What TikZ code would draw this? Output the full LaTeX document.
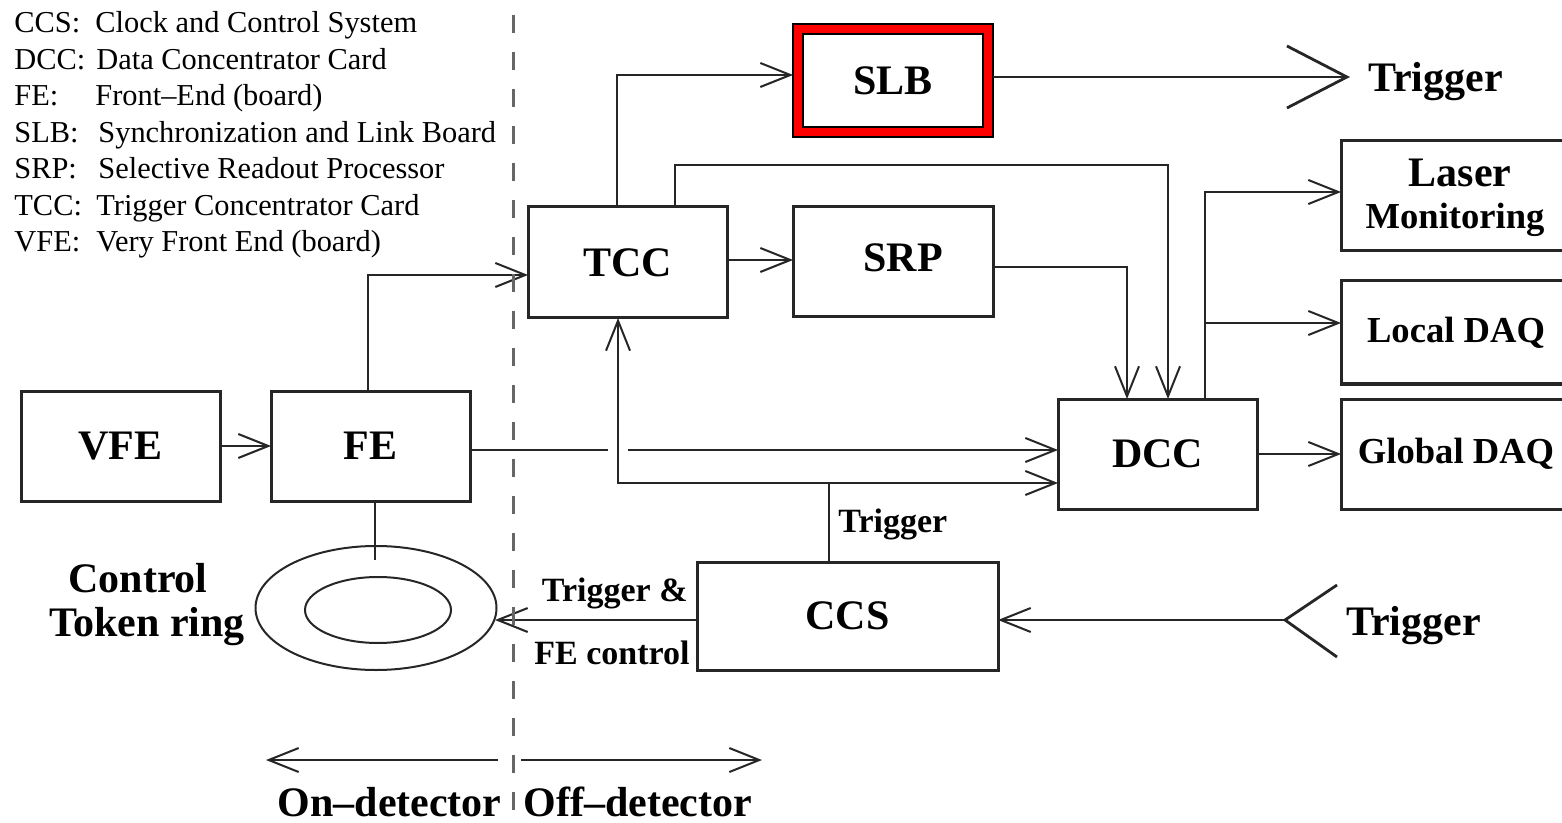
\documentclass[tikz,border=0pt]{standalone}
\usepackage{fontspec}
\setmainfont{Liberation Serif}
\usetikzlibrary{arrows.meta,shapes.geometric}
\begin{document}
\begin{tikzpicture}[x=0.5pt,y=-0.5pt,
  line/.style={line width=1.4pt,draw=black!85},
  thinline/.style={line width=0.9pt,draw=black!85},
  arr/.style={line, -{Straight Barb[length=15pt,width=12pt,line width=1pt]}},
  bigarr/.style={line, -{Straight Barb[length=30pt,width=31pt,line width=1.4pt]}},
  box/.style={draw=black!85,line width=1.5pt,inner sep=0pt,outer sep=0pt,rectangle,fill=white},
  big/.style={font=\fontsize{21}{24}\selectfont\bfseries},
  mid/.style={font=\fontsize{18.3}{21}\selectfont\bfseries},
  small/.style={font=\fontsize{17}{20}\selectfont\bfseries},
  leg/.style={font=\fontsize{15.2}{18}\selectfont, inner sep=0pt, anchor=base west},
  lbl/.style={inner sep=0pt},
  ring/.style={ellipse,draw=black!85,line width=1pt,inner sep=0pt,outer sep=0pt},
  divider/.style={draw=black!60,line width=1.5pt,dash pattern=on 9pt off 9.5pt},
]
\useasboundingbox (0,0) rectangle (1562,823);
\clip (0,0) rectangle (1562,823);

% legend
\node[leg] (l1a) at (14,33) {CCS:};
\node[leg] (l1b) at (95,33) {Clock and Control System};
\node[leg] (l2a) at (14,69.5) {DCC:};
\node[leg] (l2b) at (96,69.5) {Data Concentrator Card};
\node[leg] (l3a) at (14,106) {FE:};
\node[leg] (l3b) at (95,106) {Front–End (board)};
\node[leg] (l4a) at (14,142.5) {SLB:};
\node[leg] (l4b) at (98,142.5) {Synchronization and Link Board};
\node[leg] (l5a) at (14,179) {SRP:};
\node[leg] (l5b) at (98,179) {Selective Readout Processor};
\node[leg] (l6a) at (14,215.5) {TCC:};
\node[leg] (l6b) at (96,215.5) {Trigger Concentrator Card};
\node[leg] (l7a) at (14,252) {VFE:};
\node[leg] (l7b) at (96,252) {Very Front End (board)};

% boxes
\node[box,big,minimum width=99.5pt,minimum height=55.5pt] (TCC) at (627.5,262.5) {TCC};
\node[box,minimum width=100pt,minimum height=55pt] (SRP) at (893,262) {};
\node[lbl,big] (SRPt) at (903,258) {SRP};
\node[box,draw=black,line width=0.8pt,fill=red,minimum width=100pt,minimum height=56.5pt] (SLB) at (893,80.5) {};
\node[box,draw=black,line width=0.6pt,big,minimum width=90pt,minimum height=46.5pt] (SLBin) at (893,80.5) {SLB};
\node[box,minimum width=115pt,minimum height=55pt] (Laser) at (1456,196) {};
\node[lbl,big,anchor=base] (Lasert) at (1460,187) {Laser};
\node[lbl,mid,anchor=base] (Monit) at (1455,229) {Monitoring};
\node[box,mid,minimum width=115pt,minimum height=51.5pt] (Local) at (1456,332.5) {Local DAQ};
\node[box,mid,minimum width=115pt,minimum height=55pt] (Global) at (1456,454) {Global DAQ};
\node[box,big,minimum width=99.5pt,minimum height=55pt] (DCC) at (1157.5,454) {DCC};
\node[box,big,minimum width=99.5pt,minimum height=55pt] (VFE) at (120.5,446) {VFE};
\node[box,big,minimum width=99.5pt,minimum height=55pt] (FE) at (370.5,446) {FE};
\node[box,big,minimum width=150.5pt,minimum height=54pt] (CCS) at (847.5,616) {CCS};
\node[ring,minimum width=120.5pt,minimum height=62pt] (ring) at (376,608) {};
\node[ring,minimum width=73pt,minimum height=33pt] (ringin) at (378,610) {};

% text labels
\node[lbl,big,anchor=base] (ctl) at (138,592) {Control};
\node[lbl,big,anchor=base] (tok) at (147,636) {Token ring};
\node[lbl,big,anchor=base west] (trgout) at (1368,92) {Trigger};
\node[lbl,big,anchor=base west] (trgin) at (1346,635) {Trigger};
\node[lbl,small,anchor=base west] (trgccs) at (838,532) {Trigger};
\node[lbl,small,anchor=base east] (trgfe) at (688,601) {Trigger \&};
\node[lbl,small,anchor=base east] (fectl) at (690,664) {FE control};
\node[lbl,big,anchor=base east] (ondet) at (502,816) {On–detector};
\node[lbl,big,anchor=base west] (offdet) at (523,816) {Off–detector};

% coordinates
\coordinate (fe1) at (368,275);
\coordinate (g1) at (608,450);
\coordinate (g2) at (628,450);
\coordinate (j) at (829,483);
\coordinate (jl) at (618,483);
\coordinate (ts) at (760,260);
\coordinate (ta) at (617,75);
\coordinate (tb1) at (675,165);
\coordinate (tb2) at (1168,165);
\coordinate (sb) at (1127,267);
\coordinate (da) at (1205,192);
\coordinate (db) at (1205,323);
\coordinate (cr) at (600,620);
\coordinate (rr) at (495,620);
\coordinate (tin) at (1285,620);
\coordinate (tinA) at (1337,585);
\coordinate (tinB) at (1337,657);
\coordinate (tout) at (1350,77);
\coordinate (fr) at (375,560);
\coordinate (bl1) at (498,760);
\coordinate (bl2) at (266,760);
\coordinate (br1) at (521,760);
\coordinate (br2) at (762,760);
\coordinate (d1) at (513,15);
\coordinate (d2) at (513,823);

% connectors
\draw[arr] (VFE) -- (FE);
\draw[arr] (FE.north -| fe1) -- (fe1) -- (TCC.west |- fe1);
\draw[line] (FE.east |- g1) -- (g1);
\draw[arr] (g2) -- (DCC.west |- g2);
\draw[thinline] (CCS.north -| j) -- (j);
\draw[arr] (j) -- (jl) -- (TCC.south -| jl);
\draw[arr] (j) -- (DCC.west |- j);
\draw[arr] (TCC.east |- ts) -- (SRP.west |- ts);
\draw[arr] (TCC.north -| ta) -- (ta) -- (SLB.west |- ta);
\draw[arr] (TCC.north -| tb1) -- (tb1) -- (tb2) -- (DCC.north -| tb2);
\draw[arr] (SRP.east |- sb) -- (sb) -- (DCC.north -| sb);
\draw[arr] (DCC.north -| da) -- (da) -- (Laser.west |- da);
\draw[arr] (db) -- (Local.west |- db);
\draw[arr] (DCC.east) -- (Global.west |- DCC.east);
\draw[arr] (CCS.west |- cr) -- (rr);
\draw[arr] (tin) -- (CCS.east |- tin);
\draw[line] (tin) -- (tinA);
\draw[line] (tin) -- (tinB);
\draw[bigarr] (SLB.east |- tout) -- (tout);
\draw[thinline] (FE.south -| fr) -- (fr);
\draw[arr] (bl1) -- (bl2);
\draw[arr] (br1) -- (br2);
\draw[divider] (d1) -- (d2);
\end{tikzpicture}
\end{document}
